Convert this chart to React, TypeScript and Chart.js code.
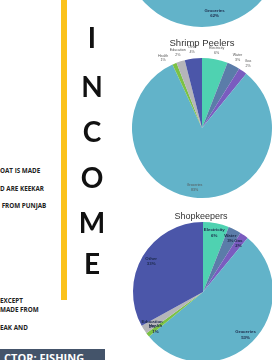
import React, { useEffect, useRef } from "react";
import { Chart, registerables } from "chart.js";
Chart.register(...registerables);

const categories = ["Electricity", "Water", "Gas", "Groceries", "Health", "Education", "Other"];
const sliceColors = ["#4fd2b1", "#5b7ca9", "#7a5cbf", "#62b3c9", "#7bc144", "#b5b5b9", "#4b56a9"];
const topValues = [8, 4, 4, 62, 2, 3, 17];
const shrimpValues = [6, 3, 2, 83, 1, 2, 4];
const shopValues = [6, 3, 2, 53, 1, 2, 33];
const letters = ["I", "N", "C", "O", "M", "E"];
const letterCenters = [37, 86, 131, 177, 222, 263];
const leftTop = ["OAT IS MADE", "D ARE KEEKAR", "\u00a0FROM PUNJAB"];
const leftBottom = ["EXCEPT", "MADE FROM", "", "EAK AND"];

const sliceLabels = {
  id: "sliceLabels",
  afterDatasetsDraw(chart: any, _args: any, opts: any) {
    const meta = chart.getDatasetMeta(0);
    const data = chart.data.datasets[0].data as number[];
    const labels = chart.data.labels as string[];
    const ctx = chart.ctx as CanvasRenderingContext2D;
    ctx.save();
    const size = opts.size || 4;
    ctx.font = `${opts.weight || "normal"} ${size}px ${opts.family || "Liberation Sans"}`;
    const lh = size * 1.25;
    const items = meta.data.map((arc: any, i: number) => {
      const p = arc.getProps(["x", "y", "startAngle", "endAngle", "outerRadius"], true);
      const mid = (p.startAngle + p.endAngle) / 2;
      const inside = !opts.outside || data[i] >= 20;
      const f = inside ? opts.insideFactor : opts.outsideFactor;
      const t1 = labels[i];
      const t2 = `${data[i]}%`;
      const w = Math.max(ctx.measureText(t1).width, ctx.measureText(t2).width);
      return {
        i, mid, inside, t1, t2, w,
        cx: p.x,
        x: p.x + Math.cos(mid) * p.outerRadius * f,
        y: p.y + Math.sin(mid) * p.outerRadius * f,
      };
    });
    // resolve overlaps of outside labels on the left side
    const left = items.filter((o: any) => !o.inside && o.x < o.cx).sort((a: any, b: any) => b.mid - a.mid);
    for (let k = 1; k < left.length; k++) {
      const prev = left[k - 1];
      const cur = left[k];
      const gap = 1.5;
      if (cur.x + cur.w / 2 > prev.x - prev.w / 2 - gap && Math.abs(cur.y - prev.y) < lh * 2) {
        cur.x = prev.x - prev.w / 2 - gap - cur.w / 2;
        cur.y = prev.y + lh * 1.2;
      }
    }
    ctx.fillStyle = opts.color || "#333";
    ctx.textAlign = "center";
    ctx.textBaseline = "middle";
    items.forEach((o: any) => {
      ctx.fillText(o.t1, o.x, o.y - lh / 2);
      ctx.fillText(o.t2, o.x, o.y + lh / 2);
    });
    ctx.restore();
  },
};

function Pie(props: {
  values: number[];
  left: number;
  top: number;
  size: number;
  labelOpts: any;
}) {
  const ref = useRef<HTMLCanvasElement>(null);
  useEffect(() => {
    const chart = new Chart(ref.current!, {
      type: "pie",
      data: {
        labels: categories,
        datasets: [
          {
            data: props.values,
            backgroundColor: sliceColors,
            borderWidth: 0,
          },
        ],
      },
      options: {
        animation: false,
        responsive: true,
        maintainAspectRatio: false,
        layout: { padding: 20 },
        plugins: {
          legend: { display: false },
          tooltip: { enabled: false },
          title: { display: false },
          sliceLabels: props.labelOpts,
        } as any,
      },
      plugins: [sliceLabels as any],
    });
    return () => chart.destroy();
  }, []);
  return (
    <div
      style={{
        position: "absolute",
        left: props.left,
        top: props.top,
        width: props.size,
        height: props.size,
      }}
    >
      <canvas ref={ref} />
    </div>
  );
}

const smallText: React.CSSProperties = {
  position: "absolute",
  left: 0,
  fontFamily: "'Open Sans', sans-serif",
  fontWeight: 700,
  fontSize: 6.3,
  color: "#222",
  whiteSpace: "pre",
  lineHeight: 1,
};

export default function App() {
  return (
    <div
      style={{
        position: "fixed",
        left: 0,
        top: 0,
        width: 272,
        height: 360,
        overflow: "hidden",
        background: "#fff",
      }}
    >
      <Pie
        values={topValues}
        left={102}
        top={-153}
        size={200}
        labelOpts={{ insideFactor: 0.84, size: 4.3, weight: "bold", color: "#1c2a4a", family: "Liberation Sans" }}
      />
      <div
        style={{
          position: "absolute",
          left: 152,
          top: 38,
          width: 100,
          textAlign: "center",
          fontFamily: "'Liberation Sans', sans-serif",
          fontSize: 9.5,
          color: "#333",
          lineHeight: 1,
        }}
      >
        Shrimp Peelers
      </div>
      <Pie
        values={shrimpValues}
        left={112}
        top={38}
        size={180}
        labelOpts={{ outside: true, insideFactor: 0.86, outsideFactor: 1.13, size: 3.6, color: "#555", family: "Liberation Sans" }}
      />
      <div
        style={{
          position: "absolute",
          left: 151,
          top: 212,
          width: 100,
          textAlign: "center",
          fontFamily: "'Liberation Sans', sans-serif",
          fontSize: 9,
          color: "#333",
          lineHeight: 1,
        }}
      >
        Shopkeepers
      </div>
      <Pie
        values={shopValues}
        left={113}
        top={202}
        size={180}
        labelOpts={{ insideFactor: 0.86, size: 4.4, weight: "bold", color: "#1c2a4a", family: "Liberation Sans" }}
      />
      <div style={{ position: "absolute", left: 61, top: 0, width: 6, height: 300, background: "#fbc21b" }} />
      {letters.map((l, i) => (
        <div
          key={l + i}
          style={{
            position: "absolute",
            left: 72,
            width: 40,
            top: letterCenters[i] - 14,
            height: 28,
            lineHeight: "28px",
            textAlign: "center",
            fontFamily: "Lato, sans-serif",
            fontWeight: 700,
            fontSize: 28,
            color: "#111",
          }}
        >
          {l}
        </div>
      ))}
      {leftTop.map((t, i) => (
        <div key={"a" + i} style={{ ...smallText, top: 168 + i * 17.5 }}>
          {t}
        </div>
      ))}
      {leftBottom.map((t, i) => (
        <div key={"b" + i} style={{ ...smallText, top: 298 + i * 9 }}>
          {t}
        </div>
      ))}
      <div
        style={{
          position: "absolute",
          left: 0,
          top: 349,
          width: 105,
          height: 11,
          background: "#44546a",
          overflow: "hidden",
        }}
      >
        <div
          style={{
            position: "absolute",
            left: 4,
            top: 3,
            fontFamily: "'Open Sans', sans-serif",
            fontWeight: 700,
            fontSize: 11,
            lineHeight: 1,
            color: "#fff",
            whiteSpace: "pre",
          }}
        >
          CTOR: FISHING
        </div>
      </div>
    </div>
  );
}
